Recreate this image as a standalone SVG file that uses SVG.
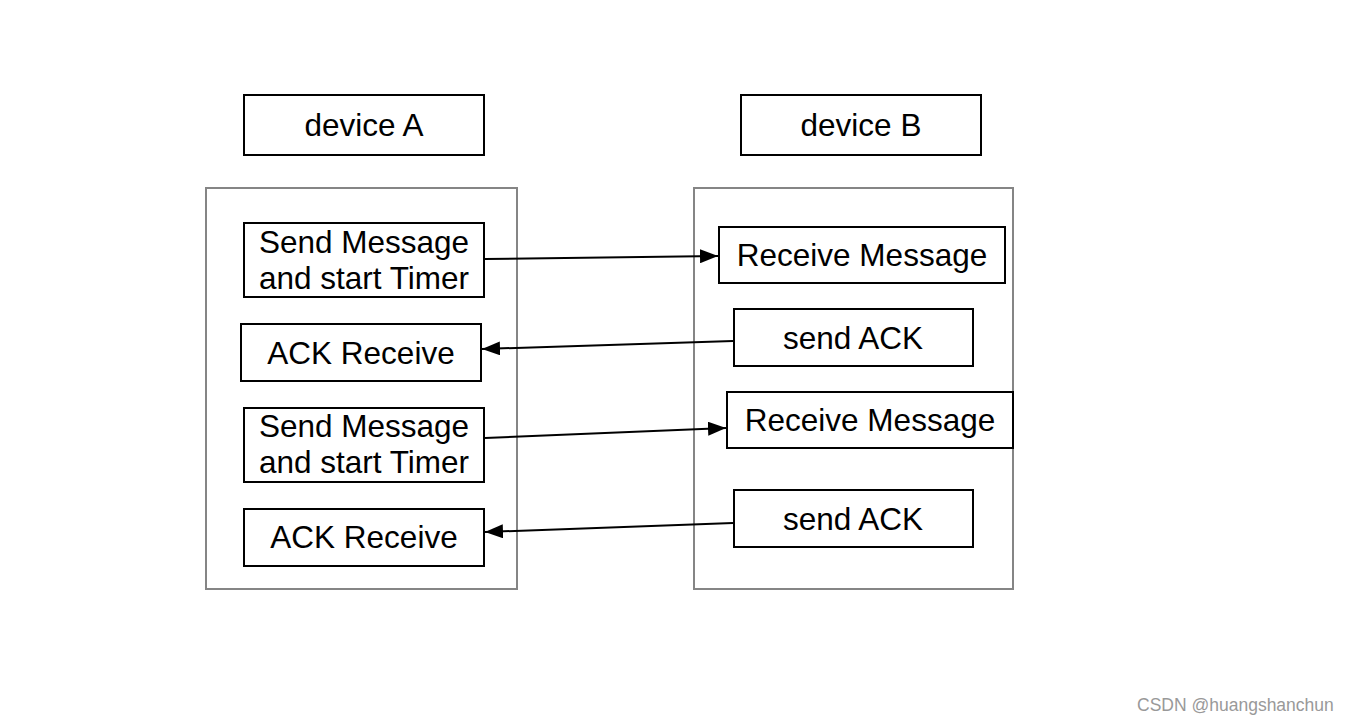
<svg xmlns="http://www.w3.org/2000/svg" width="1350" height="724" viewBox="0 0 1350 724">
<defs>
<marker id="ah" viewBox="0 0 18 14" refX="18" refY="7" markerWidth="18" markerHeight="14" markerUnits="userSpaceOnUse" orient="auto">
<path d="M0,0 L18,7 L0,14 z" fill="#000"/>
</marker>
</defs>
<style>
.box{fill:#fff;stroke:#000;stroke-width:2}
.cont{fill:#fff;stroke:#858585;stroke-width:2}
.t{font-family:"Liberation Sans",Arial,sans-serif;font-size:31.5px;fill:#000;text-anchor:middle}
.c{stroke:#000;stroke-width:2;fill:none;marker-end:url(#ah)}
.wm{font-family:"Liberation Sans",Arial,sans-serif;font-size:17.5px;fill:#999}
</style>
<rect width="1350" height="724" fill="#fff"/>
<g id="containerA"><rect class="cont" x="206" y="188" width="311" height="401"/></g>
<g id="containerB"><rect class="cont" x="694" y="188" width="319" height="401"/></g>
<g id="deviceA"><rect class="box" x="244" y="95" width="240" height="60"/><text class="t" x="364" y="136">device A</text></g>
<g id="deviceB"><rect class="box" x="741" y="95" width="240" height="60"/><text class="t" x="861" y="136">device B</text></g>
<g id="sendMsg1"><rect class="box" x="244" y="223" width="240" height="74"/><text class="t" x="364" y="253">Send Message</text><text class="t" x="364" y="289">and start Timer</text></g>
<g id="ackRecv1"><rect class="box" x="241" y="324" width="240" height="57"/><text class="t" x="361" y="364">ACK Receive</text></g>
<g id="sendMsg2"><rect class="box" x="244" y="408" width="240" height="74"/><text class="t" x="364" y="437">Send Message</text><text class="t" x="364" y="473">and start Timer</text></g>
<g id="ackRecv2"><rect class="box" x="244" y="509" width="240" height="57"/><text class="t" x="364" y="548">ACK Receive</text></g>
<g id="recvMsg1"><rect class="box" x="719" y="227" width="286" height="56"/><text class="t" x="862" y="266">Receive Message</text></g>
<g id="sendAck1"><rect class="box" x="734" y="309" width="239" height="57"/><text class="t" x="853" y="349">send ACK</text></g>
<g id="recvMsg2"><rect class="box" x="727" y="392" width="286" height="56"/><text class="t" x="870" y="431">Receive Message</text></g>
<g id="sendAck2"><rect class="box" x="734" y="490" width="239" height="57"/><text class="t" x="853" y="530">send ACK</text></g>
<g id="connectors">
<line class="c" x1="485" y1="259" x2="718" y2="256"/>
<line class="c" x1="733" y1="341" x2="482" y2="349"/>
<line class="c" x1="485" y1="438" x2="726" y2="428"/>
<line class="c" x1="733" y1="523" x2="485" y2="532"/>
</g>
<text class="wm" x="1137" y="711">CSDN @huangshanchun</text>
</svg>
